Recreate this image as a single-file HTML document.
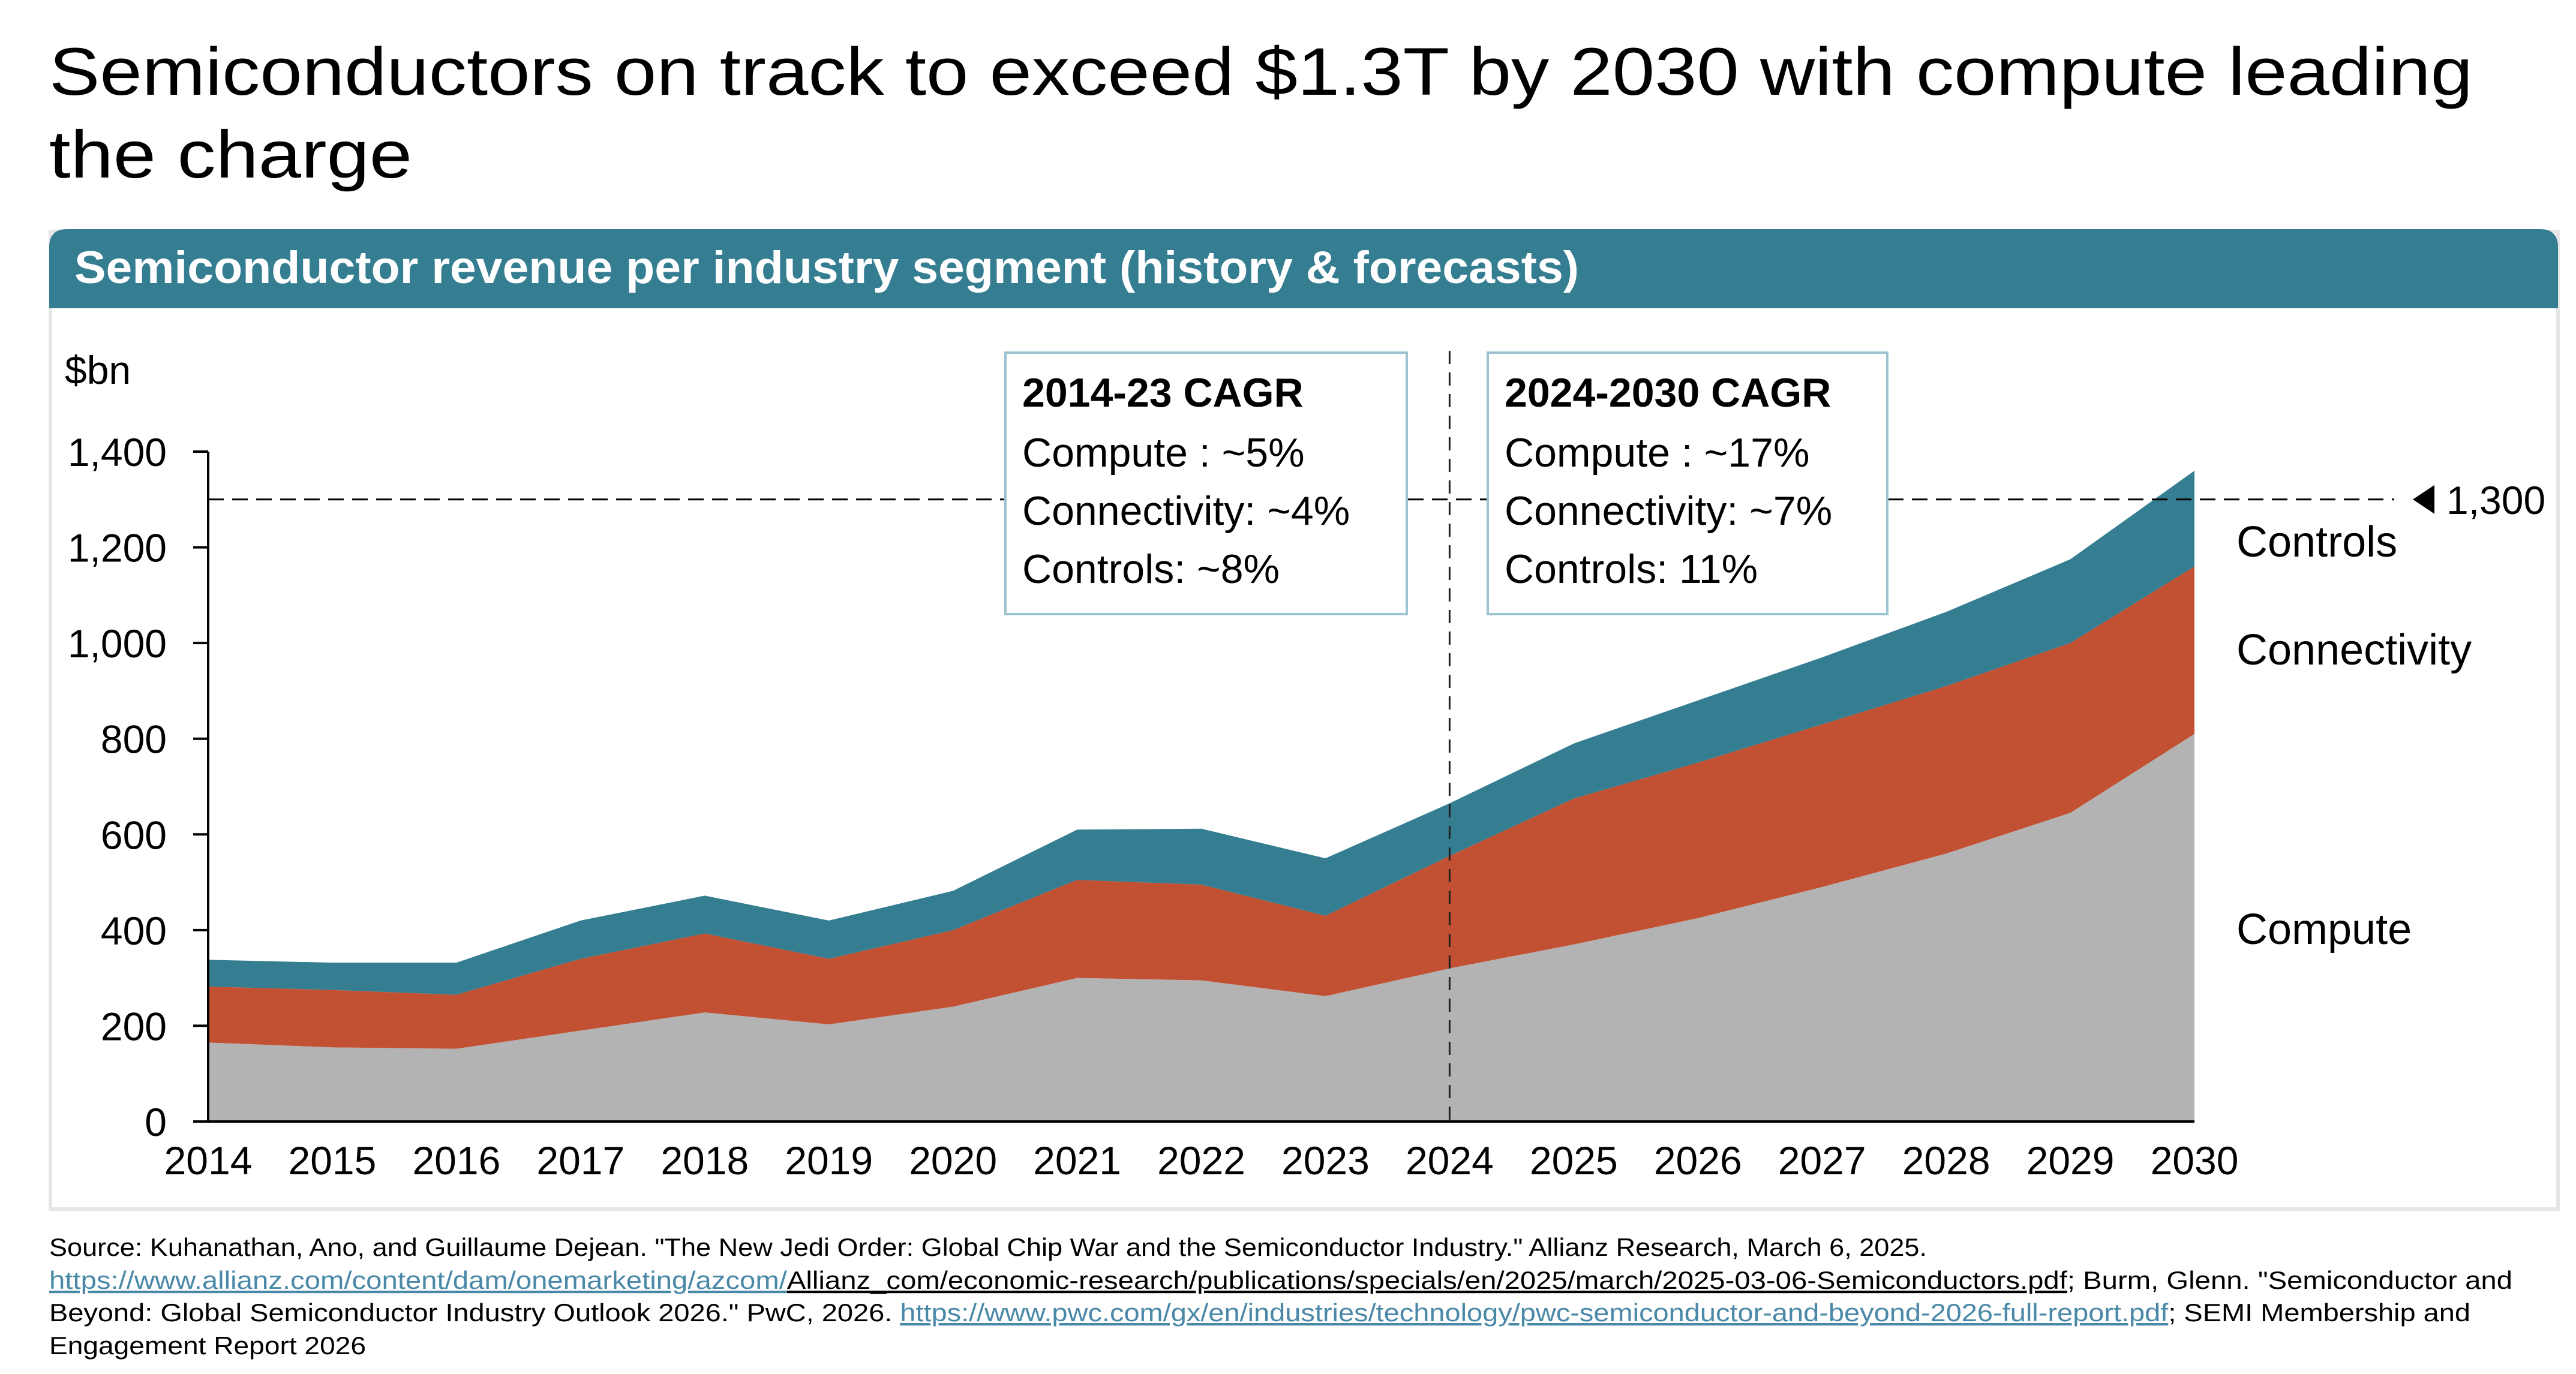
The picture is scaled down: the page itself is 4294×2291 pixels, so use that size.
<!DOCTYPE html>
<html><head><meta charset="utf-8"><style>
html,body{margin:0;padding:0;background:#fff;}
svg{display:block;font-family:"Liberation Sans",sans-serif;}
</style></head><body>
<svg width="4294" height="2291" viewBox="0 0 4294 2291" xmlns="http://www.w3.org/2000/svg">
<text x="82" y="158" font-size="112" fill="#000" textLength="4040" lengthAdjust="spacingAndGlyphs">Semiconductors on track to exceed $1.3T by 2030 with compute leading</text>
<text x="82" y="296" font-size="112" fill="#000" textLength="605" lengthAdjust="spacingAndGlyphs">the charge</text>
<rect x="84" y="386" width="4180" height="1630" fill="#fff" stroke="#e6e6e6" stroke-width="6"/>
<path d="M82 514 V412 Q82 382 112 382 H4234 Q4264 382 4264 412 V514 Z" fill="#357e92"/>
<text x="124" y="472" font-size="76" font-weight="bold" fill="#fff" textLength="2508" lengthAdjust="spacingAndGlyphs">Semiconductor revenue per industry segment (history &amp; forecasts)</text>
<g id="plot"></g>
<g id="boxes">
<rect x="1676" y="588" width="669" height="436" fill="#fff" stroke="#9cc3d0" stroke-width="4"/>
<text x="1704" y="678" font-size="68" font-weight="bold">2014-23 CAGR</text>
<text x="1704" y="778" font-size="68">Compute : ~5%</text>
<text x="1704" y="875" font-size="68">Connectivity: ~4%</text>
<text x="1704" y="972" font-size="68">Controls: ~8%</text>
<rect x="2480" y="588" width="666" height="436" fill="#fff" stroke="#9cc3d0" stroke-width="4"/>
<text x="2508" y="678" font-size="68" font-weight="bold">2024-2030 CAGR</text>
<text x="2508" y="778" font-size="68">Compute : ~17%</text>
<text x="2508" y="875" font-size="68">Connectivity: ~7%</text>
<text x="2508" y="972" font-size="68">Controls: 11%</text>
</g>
<g font-size="42" fill="#000">
<text x="82" y="2094" textLength="3130" lengthAdjust="spacingAndGlyphs">Source: Kuhanathan, Ano, and Guillaume Dejean. "The New Jedi Order: Global Chip War and the Semiconductor Industry." Allianz Research, March 6, 2025.</text>
<text x="82" y="2149" textLength="4106" lengthAdjust="spacingAndGlyphs"><tspan fill="#4a88a8" text-decoration="underline">https://www.allianz.com/content/dam/onemarketing/azcom/</tspan><tspan text-decoration="underline">Allianz_com/economic-research/publications/specials/en/2025/march/2025-03-06-Semiconductors.pdf</tspan>; Burm, Glenn. "Semiconductor and</text>
<text x="82" y="2203" textLength="4036" lengthAdjust="spacingAndGlyphs">Beyond: Global Semiconductor Industry Outlook 2026." PwC, 2026. <tspan fill="#4a88a8" text-decoration="underline">https://www.pwc.com/gx/en/industries/technology/pwc-semiconductor-and-beyond-2026-full-report.pdf</tspan>; SEMI Membership and</text>
<text x="82" y="2258" textLength="528" lengthAdjust="spacingAndGlyphs">Engagement Report 2026</text>
</g>
</svg>
<script>
const years = [2014,2015,2016,2017,2018,2019,2020,2021,2022,2023,2024,2025,2026,2027,2028,2029,2030];
const compute = [165,155,152,190,228,203,240,300,295,262,320,370,425,490,560,645,810];
const connectivity = [117,120,113,150,165,137,160,205,200,168,235,305,325,340,350,355,350];
const controls = [56,57,67,80,79,80,82,105,117,120,110,115,130,140,155,175,200];
const yTicks = [0,200,400,600,800,1000,1200,1400];
const targetValue = 1300;

const NS = "http://www.w3.org/2000/svg";
const plot = document.getElementById("plot");
const X0 = 347, X1 = 3658, Y0 = 1870, Y1400 = 753;
function xs(i){ return X0 + (X1 - X0) * i / (years.length - 1); }
function ys(v){ return Y0 - (Y0 - Y1400) * v / 1400; }
function mk(tag, attrs){ const e = document.createElementNS(NS, tag); for (const k in attrs) e.setAttribute(k, attrs[k]); return e; }

const base = years.map(() => 0);
const l1 = compute.slice();
const l2 = compute.map((v,i) => v + connectivity[i]);
const l3 = l2.map((v,i) => v + controls[i]);
function area(lo, hi, color, name){
  let d = "M" + xs(0) + " " + ys(hi[0]);
  for (let i = 1; i < years.length; i++) d += " L" + xs(i) + " " + ys(hi[i]);
  for (let i = years.length - 1; i >= 0; i--) d += " L" + xs(i) + " " + ys(lo[i]);
  const p = mk("path", {d: d + " Z", fill: color});
  
  
  plot.appendChild(p);
}
area(base, l1, "#b3b3b3", "area-compute");
area(l1, l2, "#c25133", "area-connectivity");
area(l2, l3, "#357e92", "area-controls");

const tl = mk("line", {x1: X0, x2: 3991, y1: ys(targetValue), y2: ys(targetValue), stroke: "#000", "stroke-width": 3, "stroke-dasharray": "26 14"});


plot.appendChild(tl);
const tri = mk("path", {d: "M4022 " + ys(targetValue) + " L4058 " + (ys(targetValue) - 24) + " L4058 " + (ys(targetValue) + 24) + " Z", fill: "#000"});


plot.appendChild(tri);
const tt = mk("text", {x: 4078, y: ys(targetValue) + 24, "font-size": 66});
tt.textContent = "1,300";


plot.appendChild(tt);

const vx = xs(years.indexOf(2024));
const vl = mk("line", {x1: vx, x2: vx, y1: 585, y2: Y0, stroke: "#222", "stroke-width": 3, "stroke-dasharray": "22 14"});


plot.appendChild(vl);

const ya = mk("line", {x1: X0, x2: X0, y1: Y1400, y2: Y0, stroke: "#000", "stroke-width": 4});


plot.appendChild(ya);
const xa = mk("line", {x1: 322, x2: X1, y1: Y0, y2: Y0, stroke: "#000", "stroke-width": 4});


plot.appendChild(xa);
yTicks.forEach(v => {
  const t = mk("line", {x1: 322, x2: X0, y1: ys(v), y2: ys(v), stroke: "#000", "stroke-width": 4});
  
  
  plot.appendChild(t);
  const lb = mk("text", {x: 278, y: ys(v) + 24, "font-size": 66, "text-anchor": "end"});
  lb.textContent = v.toLocaleString("en-US");
  
  
  plot.appendChild(lb);
});
years.forEach((y, i) => {
  const lb = mk("text", {x: xs(i), y: 1958, "font-size": 66, "text-anchor": "middle"});
  lb.textContent = y;
  
  
  plot.appendChild(lb);
});
const yt = mk("text", {x: 108, y: 640, "font-size": 66});
yt.textContent = "$bn";


plot.appendChild(yt);

[["Controls", 928, "label-controls"], ["Connectivity", 1108, "label-connectivity"], ["Compute", 1574, "label-compute"]].forEach(a => {
  const t = mk("text", {x: 3728, y: a[1], "font-size": 72});
  t.textContent = a[0];
  
  
  plot.appendChild(t);
});
</script>
</body></html>
